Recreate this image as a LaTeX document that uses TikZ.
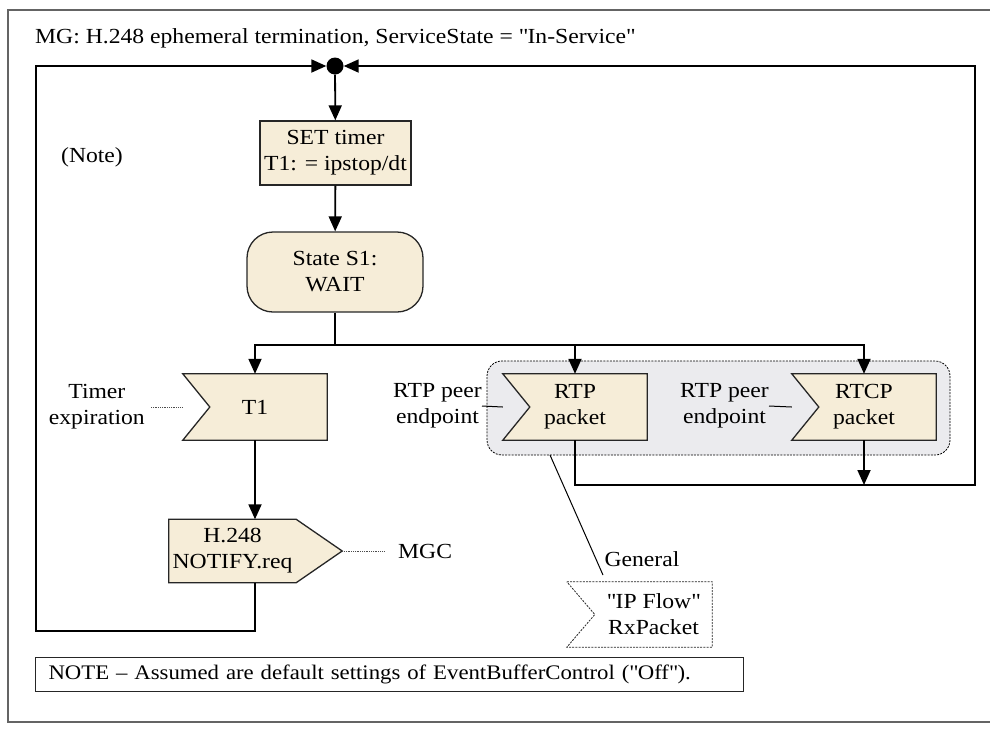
\documentclass[tikz,border=0pt]{standalone}
\usepackage{fontspec}
\setmainfont{Liberation Serif}[FakeStretch=1.1]
\usetikzlibrary{arrows.meta,calc}
\definecolor{boxfill}{RGB}{246,237,216}
\definecolor{grpfill}{RGB}{235,235,238}
\definecolor{framegray}{RGB}{100,100,100}
\pgfdeclarelayer{bg}
\pgfsetlayers{bg,main}
\tikzset{
  flow/.style={line width=1.8pt,-{Triangle[length=15pt,width=13pt]}},
  wire/.style={line width=1.8pt},
  box/.style={draw=black!85,fill=boxfill,line width=1.3pt,align=center,inner sep=0pt},
  sig/.style={align=center,inner sep=0pt},
  lbl/.style={align=center,inner sep=0pt},
  leader/.style={line width=0.8pt,densely dotted,black!70},
  fine/.style={line width=0.8pt,dash pattern=on 2pt off 1.2pt},
}
% input signal: notch on the left, outer corners #3 left of the node
\newcommand{\insig}[4][]{\draw[box,#1] ([xshift=-#3]#2.north west) -- (#2.north east)
  -- (#2.south east) -- ([xshift=-#3]#2.south west) -- ([xshift=#4-#3]#2.west) -- cycle;}
% output signal: point #2 beyond the right side
\newcommand{\outsig}[2]{\draw[box] (#1.north west) -- (#1.north east) -- ([xshift=#2]#1.east)
  -- (#1.south east) -- (#1.south west) -- cycle;}
\newcommand{\dq}{\textquotedbl}
\begin{document}
\begin{tikzpicture}[x=1pt,y=-1pt,font=\fontsize{21.5}{26}\selectfont]
\clip (0,0) rectangle (990,729);
\draw[framegray,line width=1.2pt] (8,10) rectangle (1000,722);
\node[anchor=base west,inner sep=0pt] (title) at (35,43) {MG: H.248 ephemeral termination, ServiceState = \dq In-Service\dq};

\node[circle,fill,inner sep=0pt,minimum size=17] (J) at (335,66) {};
\node[box,minimum width=151,minimum height=64] (set) at (335.5,153) {SET timer\\T1: = ipstop/dt};
\node[box,rounded corners=26pt,minimum width=176,minimum height=80] (wait) at (335,272) {State S1:\\WAIT};
\coordinate (br) at (335,345);
\node[sig,minimum width=144,minimum height=66] (t1) at (255,407) {T1};
\node[sig,minimum width=144,minimum height=66] (rtp) at (575,407) {RTP\\packet};
\node[sig,minimum width=144,minimum height=66] (rtcp) at (864,407) {RTCP\\packet};
\node[sig,minimum width=127,minimum height=63] (notify) at (232.5,551) {H.248\\NOTIFY.req};
\node[sig,minimum width=117,minimum height=65] (ipflow) at (653.5,614.5) {\dq IP Flow\dq\\RxPacket};

\node[lbl] (note) at (92,157) {(Note)};
\node[lbl,anchor=east] (timer) at (145,407) {Timer\\expiration};
\node[lbl,anchor=east] (peer1) at (482,406) {RTP peer\\endpoint};
\node[lbl,anchor=east] (peer2) at (769,406) {RTP peer\\endpoint};
\node[lbl,anchor=west] (mgc) at (398,551) {MGC};
\node[lbl] (gen) at (642,559) {General};
\node[draw=black!85,line width=1pt,anchor=west,text width=682,inner xsep=13pt,minimum height=34,font=\fontsize{20.7}{26}\selectfont] (nt) at (35,674) {NOTE – Assumed are default settings of EventBufferControl (\dq Off\dq).};

\begin{pgfonlayer}{bg}
\node[fine,draw,rounded corners=15pt,fill=grpfill,minimum width=463,minimum height=94] (grp) at (718.5,408) {};
\insig{t1}{0}{27}
\insig{rtp}{0}{27}
\insig{rtcp}{0}{27}
\insig[fine,fill=white]{ipflow}{28}{28}
\outsig{notify}{46}
\end{pgfonlayer}

\coordinate (rloop) at (975,485);
\coordinate (lloop) at (36,631);
\coordinate (genA) at (550,455);
\coordinate (genB) at (603,575);

\draw[flow] (J) -- (set);
\draw[flow] (set) -- (wait);
\draw[wire] (wait) -- (br);
\draw[flow] (br) -| (t1.north);
\draw[flow] (br) -| (rtp.north);
\draw[flow] (br) -| (rtcp.north);
\draw[flow] (t1.south) -- (t1.south |- notify.north);
\draw[flow] (t1.south |- notify.south) |- (lloop) |- (J.west);
\draw[flow] (rtp.south) |- (rloop) |- (J.east);
\draw[flow] (rtcp.south) -- (rtcp.south |- rloop);
\draw[leader] ([xshift=6pt]timer.east) -- (t1.west);
\draw[line width=1pt] (peer1.east) -- (rtp.west);
\draw[line width=1pt] (peer2.east) -- (rtcp.west);
\draw[leader] ([xshift=46pt]notify.east) -- ([xshift=-14pt]mgc.west);
\draw[line width=1pt] (genA) -- (genB);
\end{tikzpicture}
\end{document}
